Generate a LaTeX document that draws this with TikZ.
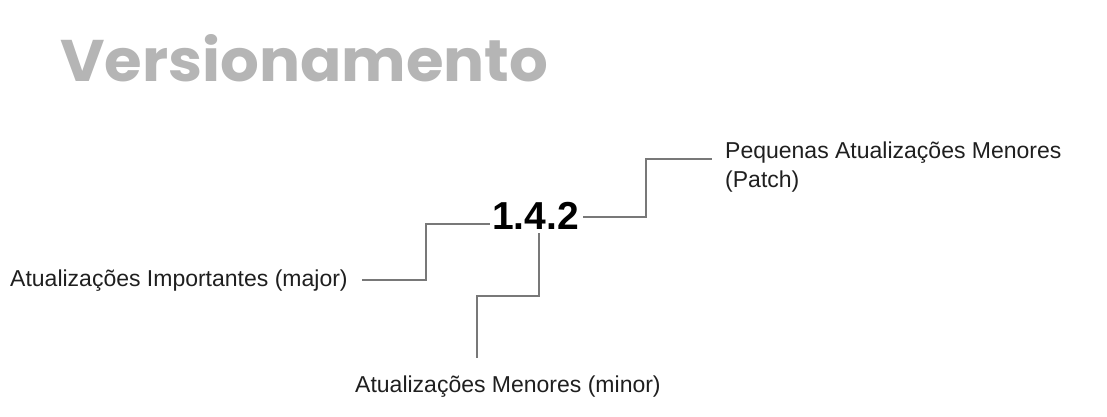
\documentclass[tikz,border=0pt]{standalone}
\usepackage{fontspec}
\setmainfont{Liberation Sans}
\newfontfamily\titlefont{Poppins}
\usepackage{graphicx}
\definecolor{titlegray}{HTML}{B5B5B5}
\definecolor{linegray}{HTML}{787878}
\begin{document}
\begin{tikzpicture}[x=1pt,y=-1pt,
  lbl/.style={anchor=base west,inner sep=0pt,font=\fontsize{23}{29}\selectfont,text=black!88},
  conn/.style={draw=linegray,line width=1.3pt}]
\useasboundingbox (0,0) rectangle (1107,417);
\node[anchor=base west,inner sep=0pt,text=titlegray] (title) at (60,82)
  {\resizebox{488pt}{47pt}{\titlefont\bfseries Versionamento}};
\node[anchor=base west,inner sep=0pt,font=\fontsize{39}{44}\selectfont\bfseries] (ver) at (492,229) {1.4.2};
\node[lbl] (maj) at (10,286) {Atualizações Importantes (major)};
\node[lbl] (min) at (355,392) {Atualizações Menores (minor)};
\node[lbl,align=left,anchor=base west] (pat) at (725,187) {Pequenas Atualizações Menores\\(Patch)};
\coordinate (m1) at (362,280);
\coordinate (m2) at (426,224);
\coordinate (m3) at (490,224);
\coordinate (n1) at (539,233);
\coordinate (n2) at (477,296);
\coordinate (n3) at (477,358);
\coordinate (p1) at (583,217);
\coordinate (p2) at (646,159);
\coordinate (p3) at (712,159);
\draw[conn] (m1) -| (m2) -- (m3);
\draw[conn] (n1) |- (n2) -- (n3);
\draw[conn] (p1) -| (p2) -- (p3);
\end{tikzpicture}
\end{document}
